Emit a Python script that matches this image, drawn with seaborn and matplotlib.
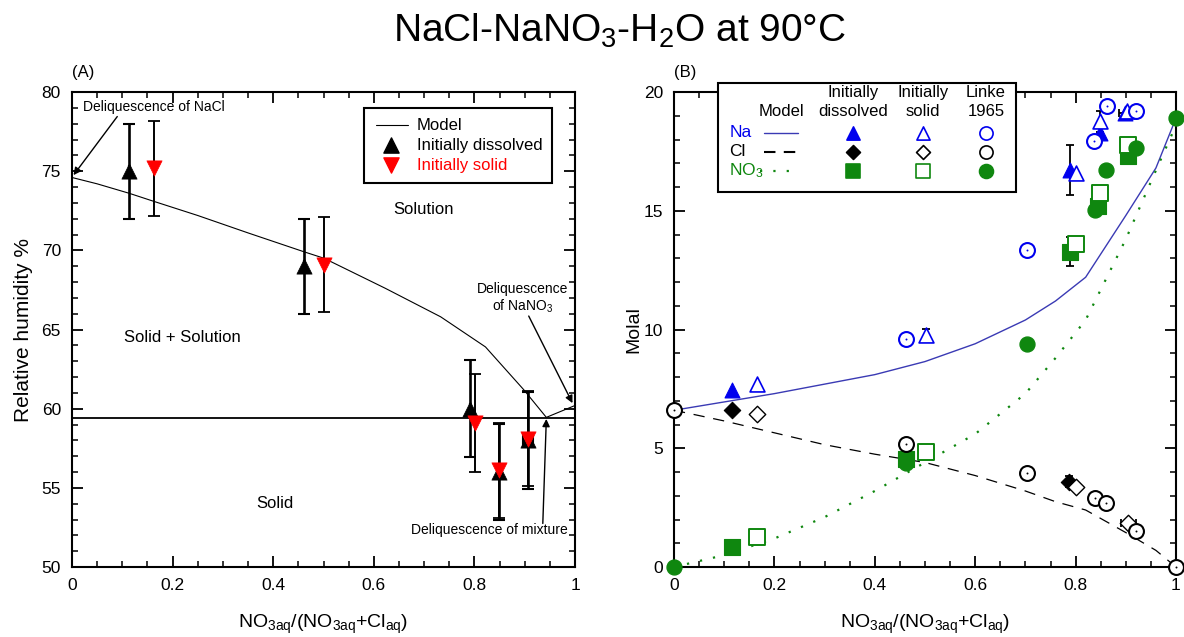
import numpy as np
import pandas as pd
import matplotlib
matplotlib.use("Agg")
import matplotlib.pyplot as plt
import seaborn as sns
from matplotlib.patches import Rectangle
from matplotlib.ticker import MultipleLocator

# ---------------- data: panel A (relative humidity) ----------------
rh_model_x = [0.0, 0.05, 0.114, 0.162, 0.25, 0.35, 0.462, 0.501, 0.623, 0.733, 0.822, 0.898, 0.943, 1.0]
rh_model_y = [74.6, 74.2, 73.6, 73.1, 72.2, 71.1, 69.9, 69.5, 67.6, 65.8, 63.9, 61.2, 59.45, 60.2]
drh_mixture = 59.4

diss_x = [0.114, 0.462, 0.791, 0.849, 0.907]
diss_rh = [75.0, 69.0, 60.0, 56.0, 58.0]
diss_err = [3.0, 3.0, 3.05, 3.05, 3.05]
diss_xerr = [0.0, 0.0, 0.0, 0.0, 0.01]

solid_x = [0.164, 0.501, 0.802, 0.849, 0.907]
solid_rh = [75.2, 69.1, 59.1, 56.1, 58.1]
solid_err = [3.0, 3.0, 3.1, 3.0, 3.0]

# ---------------- data: panel B (molality) ----------------
model_x = [0.0, 0.1, 0.2, 0.3, 0.4, 0.5, 0.6, 0.7, 0.76, 0.82, 0.9, 0.96, 1.0]
na_model = [6.6, 6.95, 7.3, 7.7, 8.1, 8.65, 9.4, 10.4, 11.2, 12.2, 14.8, 16.8, 18.9]
cl_model = [6.6, 6.15, 5.65, 5.15, 4.75, 4.4, 3.85, 3.2, 2.75, 2.4, 1.45, 0.7, 0.0]
no3_model = [0.0, 0.5, 1.2, 2.1, 3.2, 4.4, 5.6, 7.3, 8.8, 10.4, 13.8, 16.7, 18.6]

na_diss_x = [0.115, 0.789, 0.849, 0.898]
na_diss_y = [7.44, 16.72, 18.27, 19.12]
na_solid_x = [0.165, 0.501, 0.801, 0.849, 0.903]
na_solid_y = [7.72, 9.76, 16.6, 18.76, 19.22]
na_linke_x = [0.462, 0.703, 0.837, 0.862, 0.920]
na_linke_y = [9.58, 13.35, 17.95, 19.4, 19.19]

cl_diss_x = [0.115, 0.787]
cl_diss_y = [6.6, 3.6]
cl_solid_x = [0.165, 0.801, 0.905]
cl_solid_y = [6.46, 3.36, 1.86]
cl_linke_x = [0.0, 0.462, 0.703, 0.839, 0.860, 0.920, 1.0]
cl_linke_y = [6.6, 5.2, 3.95, 2.9, 2.7, 1.53, 0.0]

no3_diss_x = [0.115, 0.462, 0.789, 0.845, 0.905]
no3_diss_y = [0.83, 4.55, 13.28, 15.18, 17.29]
no3_solid_x = [0.165, 0.501, 0.801, 0.849, 0.905]
no3_solid_y = [1.25, 4.84, 13.59, 15.74, 17.78]
no3_linke_x = [0.0, 0.462, 0.703, 0.839, 0.861, 0.920, 1.0]
no3_linke_y = [0.0, 4.39, 9.41, 15.03, 16.72, 17.64, 18.9]

# error bars in panel B: (x, y, xerr, yerr)
errbars_b = [
    (0.789, 16.72, 0.0, 1.05),
    (0.849, 18.76, 0.0, 0.45),
    (0.501, 9.76, 0.0, 0.25),
    (0.462, 9.58, 0.0, 0.15),
    (0.898, 19.12, 0.012, 0.0),
    (0.789, 13.28, 0.0, 0.62),
    (0.905, 17.29, 0.015, 0.0),
    (0.787, 3.6, 0.0, 0.22),
    (0.905, 1.86, 0.015, 0.0),
    (0.462, 5.2, 0.0, 0.2),
]

# ---------------- style ----------------
sns.set_theme(style="white")
plt.rcParams["font.family"] = ["Liberation Sans", "DejaVu Sans"]
plt.rcParams["mathtext.fontset"] = "custom"
plt.rcParams["mathtext.rm"] = "Liberation Sans"
plt.rcParams["mathtext.it"] = "Liberation Sans:italic"
plt.rcParams["mathtext.bf"] = "Liberation Sans:bold"
for k in ["text.color", "axes.labelcolor", "xtick.color", "ytick.color", "axes.edgecolor"]:
    plt.rcParams[k] = "black"

BLUE = "#0000ee"
BLUE_LINE = "#3a3ab4"
GREEN = "#0f870f"
RED = "#ff0000"

fig = plt.figure(figsize=(11.84, 6.37), dpi=100)
axA = fig.add_axes([72 / 1184, 1 - 567 / 637, 503 / 1184, 475 / 637])
axB = fig.add_axes([674 / 1184, 1 - 567 / 637, 502 / 1184, 475 / 637])

xlabel = r"NO$\mathregular{_{3aq}}$/(NO$\mathregular{_{3aq}}$+Cl$\mathregular{_{aq}}$)"


def style_axes(ax, ymaj, ymin):
    for s in ax.spines.values():
        s.set_linewidth(1.5)
        s.set_color("black")
    ax.xaxis.set_major_locator(MultipleLocator(0.2))
    ax.xaxis.set_minor_locator(MultipleLocator(0.05))
    ax.yaxis.set_major_locator(MultipleLocator(ymaj))
    ax.yaxis.set_minor_locator(MultipleLocator(ymin))
    ax.tick_params(which="both", direction="in", top=True, right=True,
                   bottom=True, left=True, color="black", labelcolor="black",
                   labelsize=12.5)
    ax.tick_params(which="major", length=8, width=1.3, pad=8)
    ax.tick_params(which="minor", length=4, width=1.1)
    ax.xaxis.set_major_formatter(matplotlib.ticker.FuncFormatter(
        lambda v, p: "0" if abs(v) < 1e-9 else ("1" if abs(v - 1) < 1e-9 else f"{v:.1f}")))
    ax.grid(False)
    ax.set_facecolor("white")


# ================= Panel A =================
ax = axA
sns.lineplot(x=rh_model_x, y=rh_model_y, ax=ax, color="black", lw=0.8,
             sort=False, estimator=None)
ax.axhline(drh_mixture, color="black", lw=1.3)

ax.errorbar(diss_x, diss_rh, yerr=diss_err, xerr=diss_xerr, fmt="none",
            ecolor="black", elinewidth=1.9, capsize=4, capthick=1.5, zorder=3)
ax.errorbar(solid_x, solid_rh, yerr=solid_err, fmt="none",
            ecolor="black", elinewidth=1.4, capsize=4, capthick=1.3, zorder=3)
sns.scatterplot(x=diss_x, y=diss_rh, ax=ax, marker="^", s=120, color="black",
                edgecolor="black", linewidth=0.5, zorder=4)
sns.scatterplot(x=solid_x, y=solid_rh, ax=ax, marker="v", s=120, color=RED,
                edgecolor=RED, linewidth=0.5, zorder=5)

ax.set_xlim(0, 1)
ax.set_ylim(50, 80)
style_axes(ax, 5, 1)
ax.set_ylabel("Relative humidity %", fontsize=15, labelpad=6)
ax.set_xlabel(xlabel, fontsize=14, labelpad=14)

# region labels
ax.text(0.698, 72.6, "Solution", fontsize=12, ha="center", va="center")
ax.text(0.219, 64.5, "Solid + Solution", fontsize=12, ha="center", va="center")
ax.text(0.404, 54.0, "Solid", fontsize=12, ha="center", va="center")

arrow = dict(arrowstyle="-|>", color="black", lw=1.0, mutation_scale=11,
             shrinkA=0, shrinkB=0)
ax.text(0.021, 79.07, "Deliquescence of NaCl", fontsize=10, ha="left", va="center")
ax.annotate("", xy=(0.003, 74.75), xytext=(0.09, 78.45), arrowprops=arrow)
ax.text(0.895, 66.95, "Deliquescence\nof NaNO$\\mathregular{_3}$", fontsize=10,
        ha="center", va="center", linespacing=1.15)
ax.annotate("", xy=(0.995, 60.35), xytext=(0.908, 65.85), arrowprops=arrow)
ax.text(0.830, 52.33, "Deliquescence of mixture", fontsize=10, ha="center", va="center")
ax.annotate("", xy=(0.943, 59.35), xytext=(0.936, 52.75), arrowprops=arrow)

# legend (A)
ax.add_patch(Rectangle((0.58, 0.808), 0.375, 0.158, transform=ax.transAxes,
                       fill=True, facecolor="white", edgecolor="black", lw=1.5, zorder=6))
ax.plot([0.6036, 0.667], [0.9305, 0.9305], transform=ax.transAxes, color="black",
        lw=0.8, zorder=7)
ax.scatter([0.635], [0.8884], transform=ax.transAxes, marker="^", s=120,
           color="black", zorder=7)
ax.scatter([0.635], [0.8463], transform=ax.transAxes, marker="v", s=120,
           color=RED, zorder=7)
ax.text(0.685, 0.9305, "Model", transform=ax.transAxes, fontsize=12, va="center", zorder=7)
ax.text(0.685, 0.8884, "Initially dissolved", transform=ax.transAxes, fontsize=12,
        va="center", zorder=7)
ax.text(0.685, 0.8463, "Initially solid", transform=ax.transAxes, fontsize=12,
        va="center", color=RED, zorder=7)
ax.text(0.0, 1.042, "(A)", transform=ax.transAxes, fontsize=12, ha="left", va="center")

# ================= Panel B =================
ax = axB
sns.lineplot(x=model_x, y=na_model, ax=ax, color=BLUE_LINE, lw=1.0, sort=False,
             estimator=None)
sns.lineplot(x=model_x, y=cl_model, ax=ax, color="black", lw=0.9, sort=False,
             estimator=None).lines[-1].set_dashes([9, 7])
sns.lineplot(x=model_x, y=no3_model, ax=ax, color=GREEN, lw=1.6, sort=False,
             estimator=None).lines[-1].set_dashes([1, 5])

for (ex, ey, xe, ye) in errbars_b:
    ax.errorbar([ex], [ey], xerr=[xe] if xe else None, yerr=[ye] if ye else None,
                fmt="none", ecolor="black", elinewidth=1.3, capsize=3, capthick=1.3,
                zorder=3)

S = 115
common = dict(ax=ax, s=S, clip_on=False)
# initially dissolved (filled)
sns.scatterplot(x=na_diss_x, y=na_diss_y, marker="^", color=BLUE, edgecolor=BLUE,
                linewidth=0.8, zorder=4, **common)
sns.scatterplot(x=cl_diss_x, y=cl_diss_y, marker="D", color="black", edgecolor="black",
                linewidth=0.8, zorder=4, **dict(common, s=70))
sns.scatterplot(x=no3_diss_x, y=no3_diss_y, marker="s", color=GREEN, edgecolor=GREEN,
                linewidth=0.8, zorder=4, **dict(common, s=125))
# initially solid (open)
sns.scatterplot(x=na_solid_x, y=na_solid_y, marker="^", color=BLUE, facecolor="white",
                edgecolor=BLUE, linewidth=1.2, zorder=5, **common)
sns.scatterplot(x=cl_solid_x, y=cl_solid_y, marker="D", color="black", facecolor="white",
                edgecolor="black", linewidth=1.0, zorder=5, **dict(common, s=70))
sns.scatterplot(x=no3_solid_x, y=no3_solid_y, marker="s", color=GREEN, facecolor="white",
                edgecolor=GREEN, linewidth=1.4, zorder=5, **dict(common, s=125))
# Linke 1965
sns.scatterplot(x=na_linke_x, y=na_linke_y, marker="o", color=BLUE, facecolor="white",
                edgecolor=BLUE, linewidth=1.5, zorder=6, **common)
sns.scatterplot(x=cl_linke_x, y=cl_linke_y, marker="o", color="black", facecolor="white",
                edgecolor="black", linewidth=1.5, zorder=6, **common)
sns.scatterplot(x=no3_linke_x, y=no3_linke_y, marker="o", color=GREEN, edgecolor=GREEN,
                linewidth=1.0, zorder=6, **common)
# centre dots of open circles
sns.scatterplot(x=na_linke_x, y=na_linke_y, marker="o", color=BLUE, s=2, linewidth=0,
                zorder=7, ax=ax, clip_on=False)
sns.scatterplot(x=cl_linke_x, y=cl_linke_y, marker="o", color="black", s=2, linewidth=0,
                zorder=7, ax=ax, clip_on=False)

ax.set_xlim(0, 1)
ax.set_ylim(0, 20)
style_axes(ax, 5, 1)
ax.set_ylabel("Molal", fontsize=14, labelpad=1)
ax.set_xlabel(xlabel, fontsize=14, labelpad=14)
ax.text(0.0, 1.042, "(B)", transform=ax.transAxes, fontsize=12, ha="left", va="center")

# legend (B) as a small table
ax.add_patch(Rectangle((0.0876, 0.79), 0.5934, 0.229, transform=ax.transAxes,
                       facecolor="white", edgecolor="black", lw=1.5, zorder=8,
                       clip_on=False))
tk = dict(transform=ax.transAxes, fontsize=12, zorder=9, ha="center", va="center")
ax.text(0.2145, 0.9585, "Model", **tk)
ax.text(0.3566, 0.9985, "Initially", **tk)
ax.text(0.3566, 0.9585, "dissolved", **tk)
ax.text(0.4954, 0.9985, "Initially", **tk)
ax.text(0.4954, 0.9585, "solid", **tk)
ax.text(0.6215, 0.9985, "Linke", **tk)
ax.text(0.6215, 0.9585, "1965", **tk)

rows_y = [0.9143, 0.8743, 0.8343]
row_lab = ["Na", "Cl", r"NO$\mathregular{_3}$"]
row_col = [BLUE, "black", GREEN]
for yy, lab, col in zip(rows_y, row_lab, row_col):
    ax.text(0.110, yy, lab, transform=ax.transAxes, fontsize=12.5, color=col,
            ha="left", va="center", zorder=9)
ax.plot([0.180, 0.2465], [rows_y[0]] * 2, transform=ax.transAxes, color=BLUE_LINE,
        lw=1.0, zorder=9, clip_on=False)
ax.plot([0.180, 0.2465], [rows_y[1]] * 2, transform=ax.transAxes, color="black",
        lw=1.5, zorder=9, dashes=[5.5, 4], clip_on=False)
ax.plot([0.172, 0.2465], [rows_y[2]] * 2, transform=ax.transAxes, color=GREEN,
        lw=1.6, zorder=9, dashes=[1, 5], clip_on=False)

cols = [0.3566, 0.4954, 0.6215]
leg_specs = [
    # (row, col, marker, face, edge, size)
    (0, 0, "^", BLUE, BLUE, 90), (0, 1, "^", "white", BLUE, 90), (0, 2, "o", "white", BLUE, 90),
    (1, 0, "D", "black", "black", 50), (1, 1, "D", "white", "black", 50),
    (1, 2, "o", "white", "black", 90),
    (2, 0, "s", GREEN, GREEN, 110), (2, 1, "s", "white", GREEN, 110), (2, 2, "o", GREEN, GREEN, 100),
]
for r, c, m, fc, ec, sz in leg_specs:
    ax.scatter([cols[c]], [rows_y[r]], transform=ax.transAxes, marker=m, s=sz,
               facecolor=fc, edgecolor=ec, linewidth=1.2, zorder=10, clip_on=False)

fig.text(0.523, 0.934, r"NaCl-NaNO$\mathregular{_3}$-H$\mathregular{_2}$O at 90°C",
         fontsize=28, ha="center", va="baseline", color="black")

fig.savefig("out.png", dpi=100, facecolor="white")
